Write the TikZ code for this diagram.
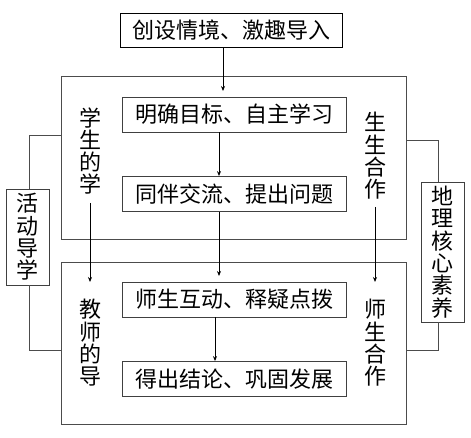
\documentclass[tikz,border=0pt]{standalone}
\usepackage{fontspec}
\newfontfamily\cjk{Noto Sans CJK SC}
\usetikzlibrary{arrows.meta}
\begin{document}
\begin{tikzpicture}[x=1pt,y=-1pt,
  txt/.style={font=\cjk\fontsize{22}{22.3}\selectfont},
  stepbox/.style={draw=black!75,line width=0.8pt,minimum width=224pt,minimum height=35pt,inner sep=0pt,txt},
  sidebox/.style={draw=black!75,line width=0.8pt,inner sep=0pt,txt,align=center},
  frame/.style={draw=black!70,line width=0.7pt},
  link/.style={draw=black!70,line width=0.7pt},
  arr/.style={draw=black,line width=0.8pt,-{Stealth[length=5pt,width=4pt]}},
  vtxt/.style={txt,align=center,inner sep=0pt}]
\useasboundingbox (0,0) rectangle (471,437);
\fill[white] (0,0) rectangle (471,437);
% frames
\draw[frame] (61,76) rectangle (406,239);
\draw[frame] (61,262) rectangle (406,424);
% top box
\node[draw=black,line width=0.9pt,minimum width=222pt,minimum height=34pt,inner sep=0pt,txt] (top) at (231,30) {创设情境、激趣导入};
% step boxes
\node[stepbox] (b1) at (234,114.5) {明确目标、自主学习};
\node[stepbox] (b2) at (234,194) {同伴交流、提出问题};
\node[stepbox] (b3) at (234,299.5) {师生互动、释疑点拨};
\node[stepbox] (b4) at (234,379) {得出结论、巩固发展};
% arrows
\coordinate (a1e) at (223,91);
\draw[arr] (top.south -| a1e) -- (a1e);
\coordinate (a2) at (219,0);
\draw[arr] (b1.south -| a2) -- (b2.north -| a2);
\coordinate (a3e) at (219,276);
\draw[arr] (b2.south -| a3e) -- (a3e);
\coordinate (a4) at (215,0);
\draw[arr] (b3.south -| a4) -- (b4.north -| a4);
% vertical labels
\node[vtxt] (ls) at (90,151) {学\\生\\的\\学};
\node[vtxt] (lt) at (90,343) {教\\师\\的\\导};
\node[vtxt] (rs) at (375,156) {生\\生\\合\\作};
\node[vtxt] (rt) at (375,343) {师\\生\\合\\作};
\coordinate (lse) at (90,282);
\coordinate (rse) at (375,282);
\draw[arr] (ls.south) ++(0,8) coordinate (lss) -- (lse);
\draw[arr] (rs.south) ++(0,7) coordinate (rss) -- (rse);
% side boxes
\node[sidebox,minimum width=43pt,minimum height=96pt] (lb) at (27.5,237) {活\\动\\导\\学};
\node[sidebox,minimum width=43pt,minimum height=140pt] (rb) at (442.5,252) {地\\理\\核\\心\\素\\养};
\coordinate (lt1) at (29,135);
\coordinate (lb1) at (29,350);
\coordinate (rt1) at (438,140);
\coordinate (rb1) at (438,350);
\draw[link] (lb.north -| lt1) -- (lt1) -- (61,135);
\draw[link] (lb.south -| lb1) -- (lb1) -- (61,350);
\draw[link] (rb.north -| rt1) -- (rt1) -- (406,140);
\draw[link] (rb.south -| rb1) -- (rb1) -- (406,350);
\end{tikzpicture}
\end{document}
